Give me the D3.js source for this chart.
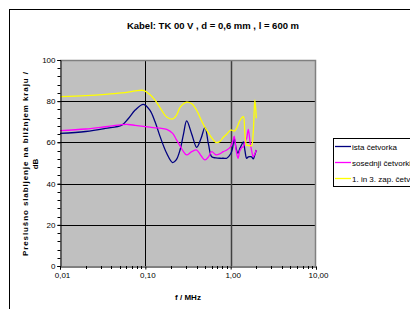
<!DOCTYPE html>
<html>
<head>
<meta charset="utf-8">
<script src="https://cdn.jsdelivr.net/npm/d3@7"></script>
<style>
  body { margin: 0; background: #fff; }
  svg { display: block; font-family: "Liberation Sans", Arial, sans-serif; }
</style>
</head>
<body>
<script>
// frequency in MHz, shared by all three series
const freq = [0.01, 0.02, 0.034, 0.053, 0.063, 0.076, 0.095, 0.113, 0.13, 0.149,
    0.178, 0.209, 0.23, 0.255, 0.28, 0.305, 0.35, 0.40, 0.45, 0.50,
    0.55, 0.60, 0.67, 0.75, 0.82, 0.90, 1.00, 1.05, 1.10, 1.16,
    1.22, 1.28, 1.35, 1.41, 1.47, 1.54, 1.61, 1.69, 1.76, 1.84,
    1.92, 2.00];

const istaCetvorka = [64.4, 65.3, 66.8, 68.4, 71.5, 75.7, 78.5, 75.7, 70, 62.8,
    54.7, 50.2, 51.5, 56.3, 64, 70.4, 64, 57.6, 62, 67.3,
    59, 53, 52.5, 52.3, 52.3, 52.3, 54.5, 57, 62, 57,
    54.7, 57, 59, 60.3, 56, 52.3, 53, 53.1, 53, 52,
    54, 56.3];

const sosednjiCetvorki = [65.7, 66.5, 67.6, 68.6, 68.7, 68.3, 67.8, 67.4, 67.1, 66.9,
    66.3, 64.4, 61.5, 58.3, 55.5, 53.9, 55.5, 56.3, 53.5, 51.5,
    53, 55.5, 54, 54.5, 55.5, 56.3, 58, 60, 63, 56,
    52.3, 56, 57.5, 58, 60, 62, 66.3, 60, 56, 53,
    54.5, 56.3];

const zapCetvorka = [82.2, 82.7, 83.3, 84, 84.4, 85, 85.2, 83.2, 80.5, 76.8,
    72.3, 71.4, 73, 77, 78.8, 79.5, 78.8, 75.5, 71, 67.3,
    64.5, 62.2, 60, 60.5, 62.5, 64, 66, 65.8, 65.5, 66.5,
    68.5, 70.5, 72, 72.5, 64, 58.7, 58.5, 58.4, 58.4, 65,
    80.6, 71.7];

const seriesNames = ['ista četvorka', 'sosednji četvorki', '1. in 3. zap. četvorka'];
const seriesColors = ['#000080', '#ff00ff', '#ffff00'];
const yTicks = [0, 20, 40, 60, 80, 100];
const xTicks = [0.01, 0.1, 1, 10];
const xTickLabels = ['0,01', '0,10', '1,00', '10,00'];

const width = 410;
const height = 309;
const plot = { left: 60, right: 316, top: 60, bottom: 266 };

const x = d3.scaleLog()
    .domain([0.01, 10])
    .range([plot.left, plot.right]);

const y = d3.scaleLinear()
    .domain([0, 100])
    .range([plot.bottom, plot.top]);

const svg = d3.create('svg')
    .attr('width', width)
    .attr('height', height);

// chart area border
svg.append('rect')
    .attr('x', 9.5).attr('y', 9.5)
    .attr('width', 440).attr('height', 340)
    .attr('fill', '#fff')
    .attr('stroke', '#000');

// plot area
svg.append('rect')
    .attr('x', plot.left).attr('y', plot.top)
    .attr('width', plot.right - plot.left)
    .attr('height', plot.bottom - plot.top)
    .attr('fill', '#c0c0c0');

// grid
svg.append('g')
    .selectAll('line')
    .data(yTicks.slice(1, -1))
    .join('line')
    .attr('x1', plot.left).attr('x2', plot.right)
    .attr('y1', d => Math.round(y(d)) + .5)
    .attr('y2', d => Math.round(y(d)) + .5)
    .attr('stroke', '#000');

svg.append('g')
    .selectAll('line')
    .data([0.1, 1])
    .join('line')
    .attr('x1', d => Math.round(x(d)) + .5)
    .attr('x2', d => Math.round(x(d)) + .5)
    .attr('y1', plot.top).attr('y2', plot.bottom)
    .attr('stroke', (d, i) => i ? '#404040' : '#000')
    .attr('stroke-width', (d, i) => i ? 1.5 : 1);

// plot border (top and right, gray)
svg.append('path')
    .attr('d', `M${plot.left},${plot.top + .5}H${plot.right - .5}V${plot.bottom}`)
    .attr('fill', 'none')
    .attr('stroke', '#808080')
    .attr('stroke-width', 1.5);

// series
const line = d3.line()
    .x(d => x(d[0]))
    .y(d => y(d[1]))
    .curve(d3.curveCatmullRom.alpha(0.5));

[istaCetvorka, sosednjiCetvorki, zapCetvorka].forEach((vals, i) => {
    svg.append('path')
        .datum(freq.map((f, j) => [f, vals[j]]))
        .attr('fill', 'none')
        .attr('stroke', seriesColors[i])
        .attr('stroke-width', 1.3)
        .attr('d', line);
});

// y axis
const y_axis = d3.axisLeft(y)
    .tickValues(yTicks)
    .tickSize(3)
    .tickPadding(2)
    .tickFormat(d => d);

const yMinor = d3.range(0, 101, 4);

const yg = svg.append('g')
    .attr('transform', `translate(${plot.left + .5},0)`)
    .call(y_axis);
yg.select('.domain').attr('stroke', '#000');
yg.selectAll('text').attr('font-size', 8).attr('font-family', null);

svg.append('g')
    .selectAll('line')
    .data(yMinor)
    .join('line')
    .attr('x1', plot.left - 2.5).attr('x2', plot.left + .5)
    .attr('y1', d => Math.round(y(d)) + .5)
    .attr('y2', d => Math.round(y(d)) + .5)
    .attr('stroke', '#000');

// x axis
const x_axis = d3.axisBottom(x)
    .tickValues(xTicks)
    .tickSize(3)
    .tickPadding(3)
    .tickFormat((d, i) => xTickLabels[i]);

const xg = svg.append('g')
    .attr('transform', `translate(0,${plot.bottom + .5})`)
    .call(x_axis);
xg.select('.domain').attr('stroke', '#000');
xg.selectAll('text').attr('font-size', 8).attr('font-family', null).attr('dx', 2);

const xMinor = [];
[0.01, 0.1, 1].forEach(dec => d3.range(2, 10).forEach(k => xMinor.push(dec * k)));

svg.append('g')
    .selectAll('line')
    .data(xMinor)
    .join('line')
    .attr('x1', d => Math.round(x(d)) + .5)
    .attr('x2', d => Math.round(x(d)) + .5)
    .attr('y1', plot.bottom).attr('y2', plot.bottom + 3)
    .attr('stroke', '#000');

// titles
svg.append('text')
    .attr('x', 213).attr('y', 29)
    .attr('text-anchor', 'middle')
    .attr('font-size', 9.5)
    .attr('font-weight', 'bold')
    .text('Kabel: TK 00 V ,  d = 0,6 mm ,  l = 600 m');

svg.append('text')
    .attr('x', 188).attr('y', 300)
    .attr('text-anchor', 'middle')
    .attr('font-size', 8)
    .attr('font-weight', 'bold')
    .text('f / MHz');

const ylab = svg.append('g')
    .attr('transform', `translate(0,${(plot.top + plot.bottom) / 2 + 1}) rotate(-90)`)
    .attr('font-size', 8)
    .attr('font-weight', 'bold')
    .attr('text-anchor', 'middle');

ylab.append('text')
    .attr('y', 28)
    .attr('textLength', 184)
    .attr('lengthAdjust', 'spacing')
    .text('Preslušno slabljenje na bližnjem kraju /');

ylab.append('text')
    .attr('y', 38)
    .text('dB');

// legend
const legend = svg.append('g')
    .attr('transform', 'translate(333,138)');

legend.append('rect')
    .attr('x', .5).attr('y', .5)
    .attr('width', 120).attr('height', 48)
    .attr('fill', '#fff')
    .attr('stroke', '#000');

const item = legend.selectAll('g.item')
    .data(seriesNames)
    .join('g')
    .attr('class', 'item')
    .attr('transform', (d, i) => `translate(0,${8.5 + i * 16})`);

item.append('line')
    .attr('x1', 2).attr('x2', 18)
    .attr('stroke', (d, i) => seriesColors[i])
    .attr('stroke-width', 1.3);

item.append('text')
    .attr('x', 19).attr('y', 3)
    .attr('font-size', 8)
    .text(d => d);

document.querySelector('body').appendChild(svg.node());
</script>
</body>
</html>
